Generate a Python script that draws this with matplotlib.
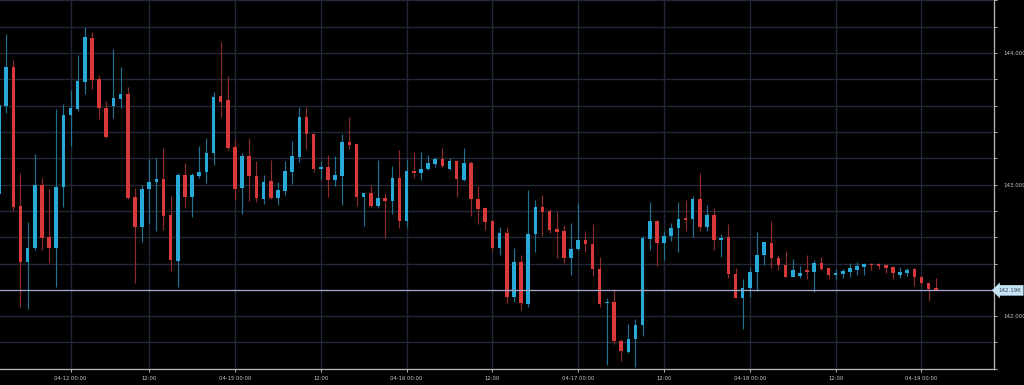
import matplotlib
matplotlib.use("Agg")
import matplotlib.pyplot as plt
import numpy as np

# ---- data (hourly candles) ----
opens = [
    142.926, 143.600, 143.897, 142.837, 142.413, 142.515, 142.997, 142.599, 142.520, 142.979, 143.530, 143.575,
    143.783, 144.118, 143.804, 143.585, 143.598, 143.651, 143.690, 142.908, 142.680, 142.967, 143.022, 143.043,
    142.769, 142.421, 143.073, 142.908, 143.065, 143.098, 143.238, 143.674, 143.644, 143.288, 142.972, 143.220,
    143.068, 142.890, 143.027, 142.900, 142.954, 143.098, 143.212, 143.512, 143.383, 143.119, 143.132, 143.035,
    143.068, 143.327, 143.307, 142.908, 142.934, 142.839, 142.896, 142.875, 143.048, 142.723, 143.104, 143.091,
    143.119, 143.154, 143.193, 143.119, 143.180, 143.035, 143.162, 142.890, 142.820, 142.725, 142.520, 142.629,
    142.147, 142.413, 142.089, 142.622, 142.832, 142.799, 142.660, 142.647, 142.439, 142.508, 142.578, 142.548,
    142.355, 142.097, 142.109, 141.812, 141.728, 141.823, 141.932, 142.586, 142.723, 142.558, 142.611, 142.672,
    142.744, 142.738, 142.888, 142.680, 142.769, 142.578, 142.599, 142.317, 142.139, 142.215, 142.333, 142.464,
    142.558, 142.444, 142.388, 142.299, 142.304, 142.345, 142.337, 142.401, 142.363, 142.312, 142.320, 142.337,
    142.350, 142.375, 142.396, 142.393, 142.388, 142.371, 142.312, 142.330, 142.355, 142.299, 142.249, 142.211,
]
highs = [
    143.621, 144.146, 143.948, 143.091, 142.718, 143.231, 143.048, 142.967, 143.573, 143.613, 143.720, 143.986,
    144.197, 144.161, 143.834, 143.636, 144.032, 143.897, 143.741, 142.976, 142.997, 143.195, 143.205, 143.281,
    142.913, 143.086, 143.162, 143.091, 143.296, 143.357, 143.702, 144.083, 143.827, 143.345, 143.238, 143.357,
    143.180, 143.073, 143.187, 143.018, 143.180, 143.334, 143.593, 143.588, 143.390, 143.180, 143.225, 143.220,
    143.383, 143.512, 143.314, 142.938, 142.997, 143.187, 142.934, 143.144, 143.263, 143.195, 143.250, 143.246,
    143.225, 143.212, 143.276, 143.205, 143.187, 143.281, 143.180, 142.992, 142.826, 142.731, 142.680, 142.675,
    142.515, 142.464, 142.959, 142.883, 142.921, 142.812, 142.794, 142.693, 142.706, 142.862, 142.647, 142.700,
    142.451, 142.135, 142.203, 141.830, 141.944, 141.975, 142.609, 142.870, 142.731, 142.647, 142.706, 142.870,
    142.883, 142.916, 143.086, 142.845, 142.820, 142.622, 142.698, 142.368, 142.282, 142.375, 142.637, 142.565,
    142.721, 142.464, 142.497, 142.434, 142.381, 142.464, 142.426, 142.451, 142.375, 142.355, 142.355, 142.406,
    142.413, 142.401, 142.401, 142.401, 142.393, 142.381, 142.371, 142.368, 142.368, 142.304, 142.253, 142.291,
]
lows = [
    142.906, 143.547, 142.801, 142.066, 142.053, 142.502, 142.502, 142.401, 142.218, 142.832, 143.296, 143.562,
    143.687, 143.725, 143.497, 143.352, 143.509, 143.581, 142.890, 142.249, 142.565, 142.706, 142.649, 142.655,
    142.342, 142.218, 142.820, 142.756, 143.048, 143.010, 143.149, 143.512, 143.263, 142.883, 142.776, 142.875,
    142.865, 142.852, 142.887, 142.845, 142.921, 143.005, 143.174, 143.271, 143.098, 143.043, 142.908, 142.992,
    142.845, 143.271, 142.839, 142.685, 142.832, 142.820, 142.591, 142.774, 142.667, 142.680, 143.053, 143.035,
    143.111, 143.136, 143.136, 143.111, 142.908, 143.027, 142.761, 142.700, 142.655, 142.497, 142.464, 142.097,
    142.104, 142.046, 142.071, 142.489, 142.609, 142.629, 142.439, 142.401, 142.312, 142.502, 142.489, 142.304,
    142.071, 141.632, 141.792, 141.658, 141.721, 141.614, 141.848, 142.502, 142.381, 142.426, 142.573, 142.489,
    142.647, 142.604, 142.647, 142.647, 142.502, 142.451, 142.291, 142.135, 141.899, 142.147, 142.190, 142.388,
    142.363, 142.350, 142.295, 142.295, 142.291, 142.282, 142.180, 142.350, 142.282, 142.282, 142.287, 142.299,
    142.312, 142.312, 142.350, 142.355, 142.325, 142.279, 142.287, 142.304, 142.231, 142.236, 142.116, 142.196,
]
closes = [
    143.606, 143.897, 142.832, 142.413, 142.520, 142.997, 142.596, 142.520, 142.979, 143.530, 143.585, 143.788,
    144.123, 143.796, 143.585, 143.365, 143.661, 143.690, 142.900, 142.675, 142.967, 143.022, 143.043, 142.763,
    142.426, 143.073, 142.908, 143.073, 143.098, 143.238, 143.669, 143.631, 143.281, 142.967, 143.220, 143.068,
    142.896, 143.018, 142.896, 142.959, 143.104, 143.218, 143.512, 143.385, 143.119, 143.129, 143.035, 143.073,
    143.327, 143.301, 142.908, 142.934, 142.839, 142.896, 142.875, 143.048, 142.723, 143.104, 143.091, 143.119,
    143.162, 143.193, 143.144, 143.180, 143.043, 143.162, 142.888, 142.812, 142.718, 142.520, 142.629, 142.147,
    142.413, 142.097, 142.622, 142.832, 142.794, 142.655, 142.642, 142.439, 142.508, 142.578, 142.546, 142.355,
    142.089, 142.109, 141.810, 141.734, 141.830, 141.932, 142.591, 142.723, 142.558, 142.611, 142.672, 142.738,
    142.733, 142.888, 142.680, 142.769, 142.578, 142.596, 142.317, 142.139, 142.215, 142.333, 142.464, 142.561,
    142.444, 142.388, 142.299, 142.350, 142.330, 142.337, 142.401, 142.355, 142.312, 142.330, 142.345, 142.363,
    142.381, 142.396, 142.388, 142.383, 142.363, 142.325, 142.337, 142.350, 142.295, 142.249, 142.205, 142.196,
]
tick_labels = ["04-12 00:00", "12:00", "04-15 00:00", "12:00", "04-16 00:00", "12:00",
               "04-17 00:00", "12:00", "04-18 00:00", "12:00", "04-19 00:00"]
tick_candles = [10, 21, 33, 45, 57, 69, 81, 93, 105, 117, 129]
last_price = 142.196

# ---- style ----
BG = "#000000"
GRID = "#232838"
UP = "#29a9d8"
DOWN = "#d8393b"
UP_WICK = "#1f7391"
DOWN_WICK = "#8f2a2c"
AXIS = "#b8b8b8"
TXT = "#c8c8c8"

W, H = 1024, 385
fig = plt.figure(figsize=(W / 100, H / 100), dpi=100, facecolor=BG)
ax = fig.add_axes([0, 16.2 / H, 994 / W, 1 - 16.6 / H])
ax.set_facecolor(BG)

o = np.array(opens); h = np.array(highs); l = np.array(lows); c = np.array(closes)
x = np.arange(len(o))
up = c >= o

ax.vlines(x[up], l[up], h[up], color=UP_WICK, lw=0.85, zorder=2)
ax.vlines(x[~up], l[~up], h[~up], color=DOWN_WICK, lw=0.85, zorder=2)
bottoms = np.minimum(o, c)
heights = np.maximum(np.abs(c - o), 0.011)
ax.bar(x[up], heights[up], bottom=bottoms[up], width=0.5, color=UP, lw=0, zorder=3)
ax.bar(x[~up], heights[~up], bottom=bottoms[~up], width=0.5, color=DOWN, lw=0, zorder=3)

ax.set_xlim(0.14, 139.14)
ax.set_ylim(141.6, 144.4)

yt = np.round(np.arange(141.6, 144.41, 0.2), 1)
ax.set_yticks(yt)
ax.set_yticklabels([f"{v:.3f}" if abs(v - round(v)) < 1e-6 else "" for v in yt])
ax.yaxis.tick_right()
ax.set_xticks(tick_candles)
ax.set_xticklabels(tick_labels)

ax.grid(True, color=GRID, lw=1.0, zorder=0)
ax.set_axisbelow(True)
for s in ["left", "top"]:
    ax.spines[s].set_visible(False)
for s in ["right", "bottom"]:
    ax.spines[s].set_color(AXIS)
    ax.spines[s].set_linewidth(0.9)
ax.tick_params(axis="y", colors=AXIS, labelcolor=TXT, length=2.5, width=0.7, pad=4, labelsize=4.0)
ax.tick_params(axis="x", colors=AXIS, labelcolor=TXT, length=2.5, width=0.7, pad=3, labelsize=3.8)

# last price line and label
ax.axhline(last_price, color="#a3a6c9", lw=0.9, zorder=4)
ax.text(1.004, last_price, f"{last_price:.3f}", transform=ax.get_yaxis_transform(),
        ha="left", va="center", fontsize=4.0, color="#3a4158", zorder=6, clip_on=False,
        bbox=dict(boxstyle="larrow,pad=0.5", fc="#c4e4f6", ec="none"))

fig.savefig("out.png", dpi=100, facecolor=BG)
